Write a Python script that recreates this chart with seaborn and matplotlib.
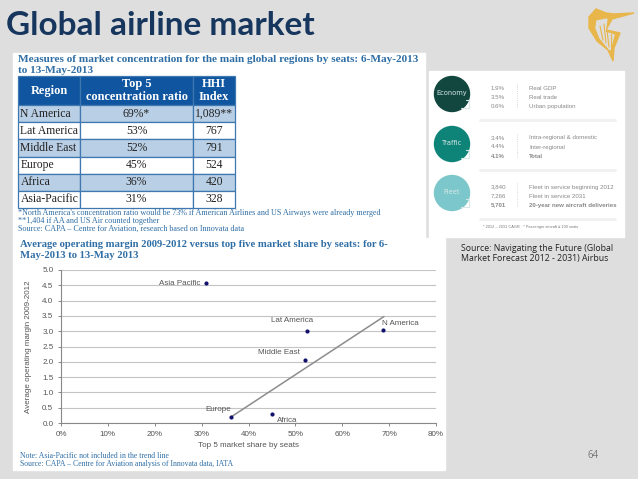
import matplotlib
matplotlib.use("Agg")
import matplotlib.pyplot as plt
from matplotlib.patches import Circle, Polygon, Rectangle
import pandas as pd
import seaborn as sns

W, H = 638, 479

# scatter chart
regions = ["Asia Pacific", "Lat America", "N America", "Middle East", "Europe", "Africa"]
market_share = [31.0, 52.5, 68.7, 52.1, 36.3, 45.1]
op_margin = [4.57, 3.0, 3.05, 2.06, 0.2, 0.3]
trend_share = [36.5, 68.9]
trend_margin = [0.22, 3.48]
x_ticks = [0, 10, 20, 30, 40, 50, 60, 70, 80]
y_ticks = [0.0, 0.5, 1.0, 1.5, 2.0, 2.5, 3.0, 3.5, 4.0, 4.5, 5.0]

# table
table_head = ["Region", "Top 5\nconcentration ratio", "HHI\nIndex"]
table_region = ["N America", "Lat America", "Middle East", "Europe", "Africa", "Asia-Pacific"]
table_ratio = ["69%*", "53%", "52%", "45%", "36%", "31%"]
table_hhi = ["1,089**", "767", "791", "524", "420", "328"]

# airbus panel
eco_vals = ["1.9%", "3.5%", "0.6%"]
eco_names = ["Real GDP", "Real trade", "Urban population"]
traffic_vals = ["3.4%", "4.4%", "4.1%"]
traffic_names = ["Intra-regional & domestic", "Inter-regional", "Total"]
fleet_vals = ["3,840", "7,266", "5,701"]
fleet_names = ["Fleet in service beginning 2012", "Fleet in service 2031", "20-year new aircraft deliveries"]

BLUE = "#2f6ea5"
NAVY = "#17365d"
SERIF = "Liberation Serif"
SANS = "Liberation Sans"


def px_axes(fig, left, top, right, bottom):
    # axes from pixel box, y measured from the top of the picture
    return fig.add_axes([left / W, 1 - bottom / H, (right - left) / W, (bottom - top) / H])


sns.set_theme(style="white")
fig = plt.figure(figsize=(W / 100, H / 100), dpi=100, facecolor="#dedede")

# page layer in pixel coordinates
page = fig.add_axes([0, 0, 1, 1])
page.set_xlim(0, W)
page.set_ylim(H, 0)
page.axis("off")
page.add_patch(Rectangle((13, 53), 412, 184, color="white"))
page.add_patch(Rectangle((13, 238), 432, 232, color="white"))
page.add_patch(Rectangle((429, 71), 195, 166, color="white"))

page.text(6, 25, "Global airline market", fontsize=24, fontweight="bold", family="Lato",
          color=NAVY, va="center")
page.text(18, 59, "Measures of market concentration for the main global regions by seats: 6-May-2013",
          fontsize=8.15, fontweight="bold", family=SERIF, color=BLUE, va="center")
page.text(18, 70, "to 13-May-2013", fontsize=8.15, fontweight="bold", family=SERIF, color=BLUE, va="center")
page.text(18, 213, "*North America's concentration ratio would be 73% if American Airlines and US Airways were already merged",
          fontsize=5.9, family=SERIF, color=BLUE, va="center")
page.text(18, 221, "**1,404 if AA and US Air counted together", fontsize=5.9, family=SERIF, color=BLUE, va="center")
page.text(18, 229, "Source: CAPA \u2013 Centre for Aviation, research based on Innovata data",
          fontsize=5.9, family=SERIF, color=BLUE, va="center")
page.text(20, 244, "Average operating margin 2009-2012 versus top five market share by seats: for 6-",
          fontsize=7.65, fontweight="bold", family=SERIF, color=BLUE, va="center")
page.text(20, 256, "May-2013 to 13-May 2013", fontsize=7.65, fontweight="bold", family=SERIF, color=BLUE, va="center")
page.text(20, 456, "Note: Asia-Pacific not included in the trend line", fontsize=5.6, family=SERIF,
          color=BLUE, va="center")
page.text(20, 464, "Source: CAPA \u2013 Centre for Aviation analysis of Innovata data, IATA", fontsize=5.6,
          family=SERIF, color=BLUE, va="center")
page.text(461, 248, "Source: Navigating the Future (Global", fontsize=6.3, family="Open Sans", color="#222222", va="center")
page.text(461, 259, "Market Forecast 2012 - 2031) Airbus", fontsize=6.3, family="Open Sans", color="#222222", va="center")
page.text(593, 456, "64", fontsize=7, family="Open Sans", color="#777777", ha="center", va="center")

# harp logo
GOLD = "#e8b64a"
page.add_patch(Polygon([(589, 17), (596, 9), (606, 13), (614, 14), (634, 13), (612, 19), (606, 30),
                        (620, 33), (614, 48), (613, 61), (608, 50), (597, 41), (589, 28)], color=GOLD))
page.add_patch(Polygon([(597, 21), (607, 19), (605, 32), (614, 35), (610, 50), (600, 38), (596, 28)],
                       color="#dedede"))
for sx, sy, ex, ey in [(600, 26, 603, 40), (604, 24, 606, 43), (607, 30, 609, 47), (611, 34, 611, 48)]:
    page.plot([sx, ex], [sy, ey], color=GOLD, lw=0.8)

# airbus panel
blocks = [
    (94, "#12473f", "Economy", eco_vals, eco_names),
    (144, "#0e8479", "Traffic", traffic_vals, traffic_names),
    (193, "#7cc7cb", "Fleet", fleet_vals, fleet_names),
]
for cy, col, label, vals, names in blocks:
    page.add_patch(Circle((452, cy), 17.5, color=col))
    page.text(452, cy - 1, label, color="#d8e8e8", fontsize=4.8, ha="center", va="center")
    page.plot([466, 469, 469, 461], [cy + 6, cy + 6, cy + 14, cy + 14], color="#d8e8e8", lw=0.8)
    page.plot([517, 517], [cy - 10, cy + 14], color="#cccccc", lw=0.6, ls=":")
    page.plot([480, 615], [cy + 26, cy + 26], color="#f0f0f0", lw=2)
    for i in range(3):
        weight = "bold" if i == 2 and label != "Economy" else "normal"
        y = cy - 6 + i * 9
        page.text(491, y, vals[i], fontsize=4.4, color="#888888", fontweight=weight, family=SANS, va="center")
        page.text(529, y, names[i], fontsize=4.4, color="#888888", fontweight=weight, family=SANS, va="center")
page.text(531, 227, "* 2012 \u2013 2031 CAGR \u00b7 * Passenger aircraft \u2265 100 seats", fontsize=2.8,
          color="#777777", family=SANS, ha="center", va="center")

# table
tab_ax = px_axes(fig, 18, 76, 235, 208)
tab_ax.axis("off")
cells = list(zip(table_region, table_ratio, table_hhi))
tab = tab_ax.table(cellText=cells, colLabels=table_head, bbox=[0, 0, 1, 1],
                   colWidths=[62, 113, 42], cellLoc="center")
tab.auto_set_font_size(False)
for (r, c), cell in tab.get_celld().items():
    cell.set_edgecolor("#3f78b0")
    cell.set_linewidth(0.9)
    cell.get_text().set_family(SERIF)
    cell.get_text().set_fontsize(8.4)
    if r == 0:
        cell.set_height(1.7)
        cell.set_facecolor("#0f559f")
        cell.get_text().set_color("white")
        cell.get_text().set_fontweight("bold")
        cell.get_text().set_fontsize(8.9)
    else:
        cell.set_height(1)
        cell.set_facecolor("#b9cfe5" if r % 2 == 1 else "white")
        cell.get_text().set_color("#222222")
        if c == 0:
            cell.get_text().set_ha("left")
            cell.PAD = 0.04

# scatter chart
ax = px_axes(fig, 61, 270, 436, 423)
ax.patch.set_alpha(0)
df = pd.DataFrame({"region": regions, "share": market_share, "margin": op_margin})
trend = pd.DataFrame({"share": trend_share, "margin": trend_margin})
sns.lineplot(data=trend, x="share", y="margin", ax=ax, color="#8c8c8c", lw=1.1)
sns.scatterplot(data=df, x="share", y="margin", ax=ax, color="#12126e", s=9, marker="o", linewidth=0, zorder=4)
ax.set_xlim(0, 80)
ax.set_ylim(0, 5)
ax.set_xticks(x_ticks)
ax.set_xticklabels([f"{t}%" for t in x_ticks])
ax.set_yticks(y_ticks)
ax.set_yticklabels([f"{t:.1f}" for t in y_ticks])
ax.yaxis.grid(True, color="#c4c4c4", lw=0.8)
ax.set_axisbelow(True)
ax.tick_params(axis="both", labelsize=5.8, labelcolor="#555555", length=2.5, width=0.7, color="#888888", pad=3,
               bottom=True, left=True)
ax.set_xlabel("Top 5 market share by seats", fontsize=5.8, color="#555555", labelpad=3, family=SANS)
ax.set_ylabel("Average operating margin 2009-2012", fontsize=5.8, color="#555555", labelpad=7, family=SANS)
for lab in ax.get_xticklabels() + ax.get_yticklabels():
    lab.set_family(SANS)
for s in ["top", "right"]:
    ax.spines[s].set_visible(False)
for s in ["left", "bottom"]:
    ax.spines[s].set_color("#888888")
    ax.spines[s].set_linewidth(0.8)

offsets = {
    "Asia Pacific": (-4, 0, "right", "center"),
    "Lat America": (4, 5, "right", "bottom"),
    "N America": (-1, 2, "left", "bottom"),
    "Middle East": (-4, 3, "right", "bottom"),
    "Europe": (0, 3, "right", "bottom"),
    "Africa": (3, -2, "left", "top"),
}
for name, sx, sy in zip(regions, market_share, op_margin):
    dx, dy, ha, va = offsets[name]
    ax.annotate(name, (sx, sy), xytext=(dx, dy), textcoords="offset points", ha=ha, va=va,
                fontsize=5.8, color="#555555", family=SANS)

fig.savefig("out.png", dpi=100, facecolor=fig.get_facecolor())
